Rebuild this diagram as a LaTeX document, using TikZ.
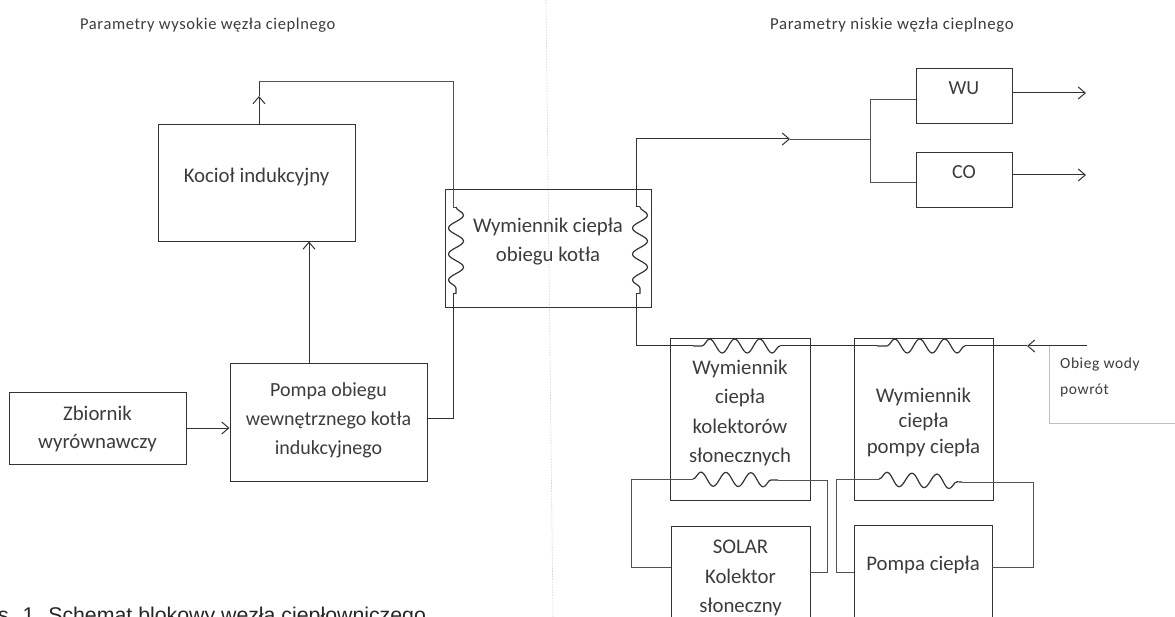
\documentclass[tikz,border=0pt]{standalone}
\usepackage{fontspec}
\setmainfont{Carlito}
\newfontfamily\capfont{Liberation Sans}
\newfontfamily\spaced[LetterSpace=3.7]{Carlito}
\usetikzlibrary{arrows.meta,decorations.pathmorphing}
\definecolor{ln}{HTML}{333333}
\definecolor{txt}{HTML}{3C3C3C}
\tikzset{
  x=1pt,y=-1pt,
  blk/.style={draw=ln,line width=0.95pt,inner sep=0pt,text=txt,align=center,font=\fontsize{20.8}{29}\selectfont},
  wire/.style={draw=ln,line width=1pt},
  coilw/.style={draw=ln,line width=1.2pt},
  thin wire/.style={draw=ln!85,line width=0.8pt},
  arr/.style={-{Straight Barb[length=7pt,width=12pt,line width=1pt]}},
  vcoil/.style={decorate,decoration={snake,amplitude=7.5pt,segment length=26pt}},
  hcoil/.style={decorate,decoration={snake,amplitude=7pt,segment length=25pt}},
  lab/.style={text=txt,font=\spaced\fontsize{15.5}{25}\selectfont,anchor=west,align=left,inner sep=0pt},
  blkat/.style args={#1/#2}{minimum width=#1pt,minimum height=#2pt},
}
\newcommand{\up}[2]{\raisebox{#1pt}[0pt][0pt]{\begin{tabular}{@{}c@{}}#2\end{tabular}}}
\begin{document}
\begin{tikzpicture}
\useasboundingbox (0,0) rectangle (1175,617);
\clip (0,0) rectangle (1175,617);
% divider
\coordinate (divT) at (546,0); \coordinate (divB) at (553,617);
\draw[draw=black!25,line width=0.6pt,densely dotted] (divT) -- (divB);
% titles
\node[lab,font=\spaced\fontsize{16.5}{20}\selectfont] (t1) at (80,25) {Parametry wysokie węzła cieplnego};
\node[lab,font=\spaced\fontsize{16.8}{20}\selectfont] (t2) at (770,25) {Parametry niskie węzła cieplnego};
% boxes
\node[blk,blkat=197/117] (koc) at (256.5,182.5) {\up{1}{Kocioł indukcyjny}};
\node[blk,blkat=206/118] (wym) at (548,248) {\up{2}{Wymiennik ciepła\\obiegu kotła}};
\node[blk,blkat=197/118,font=\fontsize{20}{29}\selectfont] (pom) at (328.5,422) {\up{-3}{Pompa obiegu\\wewnętrznego kotła\\indukcyjnego}};
\node[blk,blkat=177/72,font=\fontsize{20.8}{28}\selectfont] (zb) at (97.5,428) {\up{-6}{Zbiornik\\wyrównawczy}};
\node[blk,blkat=96/55,font=\fontsize{20}{22}\selectfont] (wu) at (964,95.5) {\up{0}{WU}};
\node[blk,blkat=96/55,font=\fontsize{20}{22}\selectfont] (co) at (964,179.5) {\up{0}{CO}};
\node[blk,blkat=140/162,font=\fontsize{20.8}{29.5}\selectfont] (wk) at (740,419) {\up{1}{Wymiennik\\ciepła\\kolektorów\\słonecznych}};
\node[blk,blkat=139/162,font=\fontsize{20.8}{25.5}\selectfont] (wp) at (923.5,419) {\up{-9}{Wymiennik\\ciepła\\pompy ciepła}};
\node[blk,blkat=139/120,anchor=north,font=\fontsize{20.8}{29.5}\selectfont] (sol) at (740.5,526) {\up{4}{SOLAR\\Kolektor\\słoneczny}};
\node[blk,blkat=138/120,anchor=north,font=\fontsize{20.8}{24}\selectfont] (pc) at (923,525) {\up{15}{Pompa ciepła}};
% return box (open at the right)
\coordinate (oa) at (1175,346); \coordinate (ob) at (1049,346); \coordinate (oc) at (1049,423); \coordinate (od) at (1175,423);
\draw[draw=black!25,line width=0.6pt] (ob) -- (oc) -- (od);
\node[lab] (ob1) at (1060,364.5) {Obieg wody};
\node[lab] (ob2) at (1060,390) {powrót};
% left circuit
\coordinate (k1) at (259,124); \coordinate (k2) at (259,81); \coordinate (k3) at (453,81);
\coordinate (cl0) at (453,207); \coordinate (cl1) at (456,207); \coordinate (cl2) at (456,294); \coordinate (cl3) at (453,294); \coordinate (pr) at (453,418);
\draw[wire,arr] (koc.north -| k1) -- (259,96);
\draw[wire] (259,96) -- (k2);
\draw[thin wire] (k2) -- (k3) -- (cl0) -- (cl1);
\draw[coilw,vcoil] (cl1) -- (cl2);
\draw[wire] (cl2) -- (cl3) -- (pr) -- (pom.east |- pr);
\draw[wire,arr] (pom.north -| 309,0) -- (koc.south -| 309,0);
\draw[wire,arr] (zb.east |- 0,428) -- (pom.west |- 0,428);
% right coil, supply
\coordinate (cr0) at (636,207); \coordinate (cr1) at (640,207); \coordinate (cr2) at (640,294); \coordinate (cr3) at (636,294);
\coordinate (s1) at (636,139); \coordinate (s2) at (790,139); \coordinate (j) at (870,139);
\draw[coilw,vcoil] (cr1) -- (cr2);
\draw[wire] (cr1) -- (cr0);
\draw[wire,arr] (cr0) -- (s1) -- (s2);
\draw[thin wire] (s2) -- (j);
\draw[thin wire] (wu.west |- 0,99) -| (870,182) -- (co.west |- 0,182);
\coordinate (wuo) at (1086,93); \coordinate (coo) at (1086,175);
\draw[wire,arr] (wu.east |- wuo) -- (wuo);
\draw[wire,arr] (co.east |- coo) -- (coo);
% return line with top coils
\coordinate (r0) at (1087,346); \coordinate (ra) at (1027,346);
\coordinate (h1b) at (965,346); \coordinate (h1a) at (877,346);
\coordinate (h2b) at (780,346); \coordinate (h2a) at (693,346);
\coordinate (r1) at (636,346);
\draw[wire,arr] (r0) -- (ra);
\draw[wire] (ra) -- (h1b);
\draw[coilw,hcoil] (h1b) -- (h1a);
\draw[wire] (h1a) -- (h2b);
\draw[coilw,hcoil] (h2b) -- (h2a);
\draw[wire] (h2a) -- (r1) -- (cr3) -- (cr2);
% solar loop
\coordinate (sa) at (693,479); \coordinate (sb) at (778,480);
\draw[coilw,hcoil] (sa) -- (sb);
\draw[thin wire] (sa) -- (631,479) |- (sol.west |- 0,567);
\draw[thin wire] (sb) -- (827,480) |- (sol.east |- 0,572);
% heat pump loop
\coordinate (pa) at (879,479); \coordinate (pb) at (962,482);
\draw[coilw,hcoil] (pa) -- (pb);
\draw[thin wire] (pa) -- (836,479) |- (pc.west |- 0,572);
\draw[thin wire] (pb) -- (1033,482) |- (pc.east |- 0,567);
% caption, cut by the page edge
\node[anchor=base west,inner sep=0pt,text=black!85,font=\capfont\fontsize{21.3}{24}\selectfont] (cap) at (-2,622) {s. 1. Schemat blokowy węzła ciepłowniczego};
\end{tikzpicture}
\end{document}
